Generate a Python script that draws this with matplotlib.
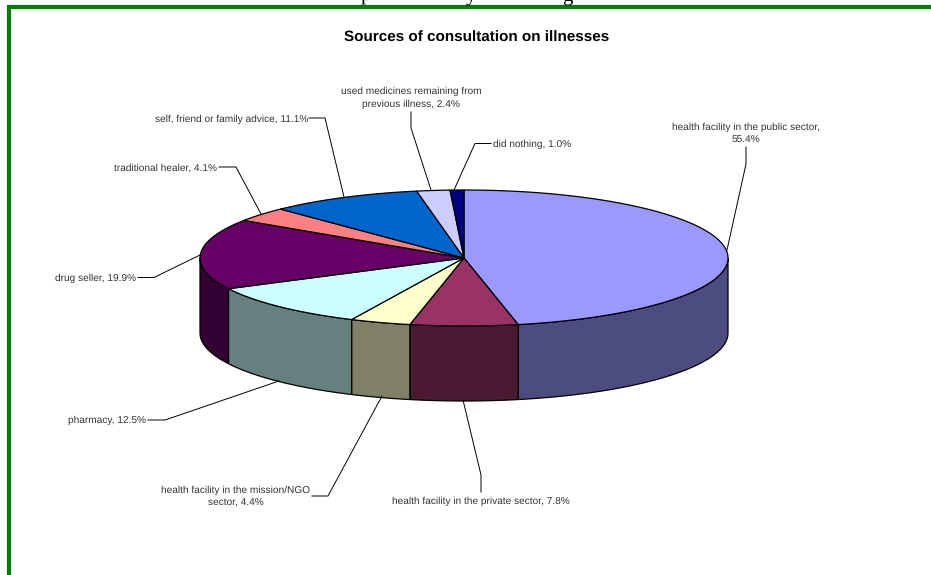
import numpy as np
import matplotlib
matplotlib.use('Agg')
import matplotlib.pyplot as plt
from matplotlib.patches import Polygon

plt.rcParams['font.family'] = ['Liberation Sans', 'DejaVu Sans']
plt.rcParams['text.hinting'] = 'no_hinting'

categories = ['health facility in the public sector', 'health facility in the private sector',
              'health facility in the mission/NGO sector', 'pharmacy', 'drug seller',
              'traditional healer', 'self, friend or family advice',
              'used medicines remaining from previous illness', 'did nothing']
values = [55.4, 7.8, 4.4, 12.5, 19.9, 4.1, 11.1, 2.4, 1.0]
top_colors = ['#9999FF', '#993366', '#FFFFCC', '#CCFFFF', '#660066',
              '#FF8080', '#0066CC', '#CCCCFF', '#000080']
side_colors = ['#4C4C80', '#4C1933', '#808066', '#668080', '#330033',
               '#804040', '#003366', '#666680', '#000040']

# label text, label position, alignment and leader line, in pixels
labels = [
    ('health facility in the public sector,\n55.4%', 746, 133.5, 'center', [(746, 147), (746, 164), (727, 250)]),
    ('health facility in the private sector, 7.8%', 481, 501.5, 'center', [(481, 492), (481, 475), (463, 400)]),
    ('health facility in the mission/NGO\nsector, 4.4%', 235.5, 497, 'center', [(312, 496), (328, 496), (382, 396)]),
    ('pharmacy, 12.5%', 146.5, 420.5, 'right', [(148, 420), (165, 420), (279, 381)]),
    ('drug seller, 19.9%', 136, 278.5, 'right', [(138, 277.5), (154, 277.5), (200, 255)]),
    ('traditional healer, 4.1%', 217.5, 168, 'right', [(219, 167), (236, 167), (261, 214)]),
    ('self, friend or family advice, 11.1%', 308, 119, 'right', [(309, 118), (325, 118), (344, 197)]),
    ('used medicines remaining from\nprevious illness, 2.4%', 411, 98, 'center', [(411, 112), (411, 128), (431, 190)]),
    ('did nothing, 1.0%', 493, 144.5, 'left', [(491, 143.5), (475, 143.5), (454, 190)]),
]

cx, cy = 464, 258
rx, ry = 264, 68
depth = 75


def arc(a, b, dy=0):
    t = np.radians(np.linspace(a, b, max(int(abs(b - a) * 2), 2)))
    return np.column_stack([cx + rx * np.sin(t), cy - ry * np.cos(t) + dy])


fig = plt.figure(figsize=(9.31, 5.75), dpi=100)
ax = fig.add_axes([0, 0, 1, 1])
ax.set_xlim(0, 931)
ax.set_ylim(575, 0)
ax.axis('off')

# bits of the page text cut off above the frame, cut off in the reference too
for ch, x in [('p', 366), ('y', 471), ('g', 567)]:
    ax.text(x, 1, ch, fontsize=15, family='Liberation Serif', ha='center', va='baseline', clip_on=True)

# green frame of the page
ax.plot([9, 9, 931], [575, 7, 7], color='#008000', lw=3.0, solid_joinstyle='miter')

ax.text(476.5, 38, 'Sources of consultation on illnesses', fontsize=11, fontweight='bold',
        ha='center', va='center')

edges = np.cumsum([0] + values) / sum(values) * 360

# sides first
for i in range(len(values)):
    a = max(edges[i], 90)
    b = min(edges[i + 1], 270)
    if b <= a:
        continue
    upper = arc(a, b)
    lower = arc(b, a, depth)
    ax.add_patch(Polygon(np.vstack([upper, lower]), closed=True, fc=side_colors[i],
                         ec='black', lw=0.9, zorder=2))

# top of the pie
for i in range(len(values)):
    pts = np.vstack([[cx, cy], arc(edges[i], edges[i + 1])])
    ax.add_patch(Polygon(pts, closed=True, fc=top_colors[i], ec='black', lw=0.9,
                         joinstyle='round', zorder=3))

for txt, x, y, ha, line in labels:
    ax.text(x, y, txt, fontsize=7.3, color='#333333', ha=ha, va='center',
            linespacing=1.5, multialignment='center', zorder=5)
    xs, ys = zip(*line)
    ax.plot(xs, ys, color='black', lw=0.7, zorder=4)

fig.savefig('out.png', dpi=100)
